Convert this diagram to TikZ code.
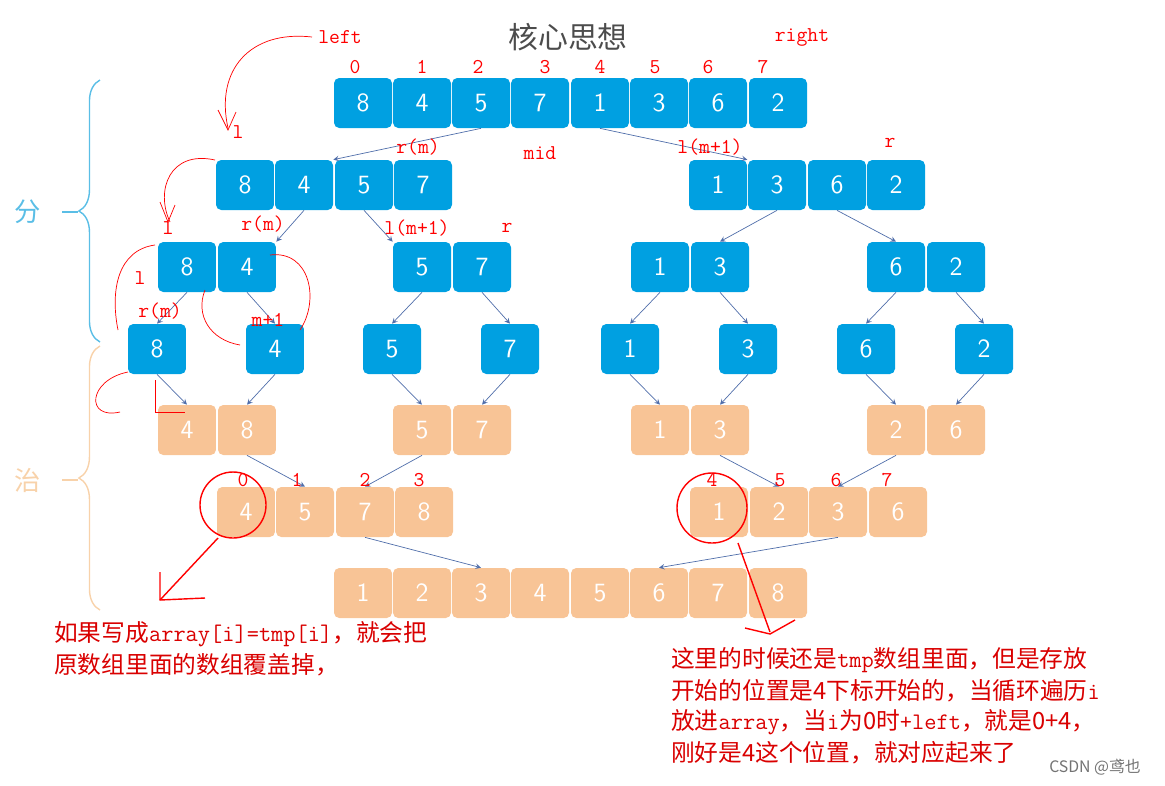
\documentclass[tikz,border=0pt]{standalone}
\usepackage{fontspec}
\newfontfamily\cjk{Noto Sans CJK SC}
\usetikzlibrary{arrows, positioning, decorations.pathreplacing, calc}
\definecolor{cellblue}{RGB}{0,160,225}
\definecolor{cellorange}{RGB}{248,196,150}
\definecolor{edgegray}{RGB}{80,110,170}
\definecolor{braceblue}{RGB}{90,190,230}
\definecolor{braceorange}{RGB}{248,210,170}
\newcommand{\asc}[1]{{\ttfamily #1}}
\tikzset{
  bcell/.style={fill=cellblue, rounded corners=3pt, minimum width=1.16cm, minimum height=1cm, inner sep=0pt, text=white, font=\fontsize{15}{17}\sffamily},
  ocell/.style={bcell, fill=cellorange},
  edge/.style={draw=edgegray, thin, -stealth},
  note/.style={text=red, font=\fontsize{12}{14}\ttfamily},
  cnote/.style={text=red!85!black, font=\cjk\fontsize{13.5}{15}\selectfont, anchor=west},
  hand/.style={red, thin}
}
\begin{document}
\begin{tikzpicture}[x=0.02cm, y=-0.02cm]
\useasboundingbox (0,0) rectangle (1165,785);

% cells
\foreach \x/\t [count=\i] in {363/8,422/4,481/5,540/7,600/1,659/3,718/6,778/2}
  \node[bcell] (a\i) at (\x,103) {\t};
\foreach \x/\t [count=\i] in {245/8,304/4,364/5,423/7,718/1,777/3,837/6,896/2}
  \node[bcell] (b\i) at (\x,185) {\t};
\foreach \x/\t [count=\i] in {187/8,247/4,422/5,482/7,660/1,720/3,896/6,956/2}
  \node[bcell] (c\i) at (\x,267) {\t};
\foreach \x/\t [count=\i] in {157/8,275/4,392/5,510/7,630/1,748/3,866/6,984/2}
  \node[bcell] (d\i) at (\x,349) {\t};
\foreach \x/\t [count=\i] in {187/4,247/8,422/5,482/7,660/1,720/3,896/2,956/6}
  \node[ocell] (e\i) at (\x,430) {\t};
\foreach \x/\t [count=\i] in {246/4,305/5,365/7,424/8,719/1,779/2,838/3,898/6}
  \node[ocell] (f\i) at (\x,512) {\t};
\foreach \x/\t [count=\i] in {363/1,422/2,481/3,540/4,600/5,659/6,718/7,778/8}
  \node[ocell] (g\i) at (\x,593) {\t};

% connectors
\draw[edge] (a3.south) -- (b2.north east);
\draw[edge] (a5.south) -- (b5.north east);
\draw[edge] (b2.south) -- (c2.north east);
\draw[edge] (b3.south) -- (c3.north west);
\draw[edge] (b6.south) -- (c6.north);
\draw[edge] (b7.south) -- (c7.north);
\foreach \i in {1,3,5,7} \draw[edge] (c\i.south) -- (d\i.north);
\foreach \i in {2,4,6,8} \draw[edge] (c\i.south) -- (d\i.north);
\foreach \i in {1,3,5,7} \draw[edge] (d\i.south) -- (e\i.north);
\foreach \i in {2,4,6,8} \draw[edge] (d\i.south) -- (e\i.north);
\draw[edge] (e2.south) -- (f2.north);
\draw[edge] (e3.south) -- (f3.north);
\draw[edge] (e6.south) -- (f6.north);
\draw[edge] (e7.south) -- (f7.north);
\draw[edge] (f3.south) -- (g3.north);
\draw[edge] (f7.south) -- (g6.north);

% braces
\draw[braceblue, thick, decorate, decoration={brace, amplitude=12pt}] (100,342) -- (100,80);
\draw[braceblue, thick] (62,212) -- (78,212);
\node[text=braceblue, font=\cjk\fontsize{15}{17}\selectfont] (fen) at (28,212) {分};
\draw[braceorange, thick, decorate, decoration={brace, amplitude=12pt}] (100,610) -- (100,346);
\draw[braceorange, thick] (62,480) -- (78,480);
\node[text=braceorange, font=\cjk\fontsize{15}{17}\selectfont] (zhi) at (28,480) {治};

% title
\node[text=black!70, font=\cjk\fontsize{17}{19}\selectfont] (title) at (568,37) {核心思想};

% red labels
\node[note] (left) at (340,37) {left};
\node[note] (right) at (802,37) {right};
\foreach \x/\t in {355/0,422/1,478/2,545/3,600/4,655/5,708/6,763/7}
  \node[note] at (\x,67) {\t};
\node[note] at (238,132) {l};
\node[note] at (418,147) {r(m)};
\node[note] at (540,153) {mid};
\node[note] at (710,147) {l(m+1)};
\node[note] at (890,143) {r};
\node[note] at (168,228) {l};
\node[note] at (263,224) {r(m)};
\node[note] at (417,228) {l(m+1)};
\node[note] at (507,228) {r};
\node[note] at (140,278) {l};
\node[note] at (160,311) {r(m)};
\node[note] at (268,320) {m+1};
\foreach \x/\t in {243/0,297/1,365/2,419/3,712/4,780/5,836/6,887/7}
  \node[note] at (\x,480) {\t};

% circles and pointers
\draw[red, thick] (233,505) circle (33);
\draw[red, thick] (712,508) circle (35);
\draw[red, thick] (218,538) -- (160,600);
\draw[red, thick] (160,572) -- (160,600) -- (205,598);
\draw[red, thick] (738,543) -- (770,632);
\draw[red, thick] (745,628) -- (770,634) -- (795,620);

% hand strokes
\draw[hand] (312,37) .. controls (250,30) and (215,70) .. (228,128);
\draw[hand] (218,110) -- (228,130) -- (236,112);
\draw[hand] (215,160) .. controls (170,150) and (155,190) .. (170,222);
\draw[hand] (160,202) -- (168,222) -- (175,205);
\draw[hand] (155,245) .. controls (118,250) and (110,290) .. (118,330);
\draw[hand] (270,255) .. controls (310,250) and (320,300) .. (300,330);
\draw[hand] (205,290) .. controls (195,315) and (210,340) .. (240,345);
\draw[hand] (128,372) .. controls (88,380) and (85,420) .. (120,412);
\draw[hand] (155,380) -- (155,412) -- (185,412);

% notes
\node[cnote] (n1) at (48,634) {如果写成\asc{array[i]=tmp[i]}，就会把};
\node[cnote] (n2) at (48,665) {原数组里面的数组覆盖掉，};
\node[cnote] (m1) at (665,660) {这里的时候还是\asc{tmp}数组里面，但是存放};
\node[cnote] (m2) at (665,691) {开始的位置是4下标开始的，当循环遍历\asc{i}};
\node[cnote] (m3) at (665,722) {放进\asc{array}，当\asc{i}为0时\asc{+left}，就是0+4，};
\node[cnote] (m4) at (665,753) {刚好是4这个位置，就对应起来了};
\node[text=black!55, font=\cjk\fontsize{9}{11}\selectfont] (mark) at (1095,767) {CSDN @鸢也};
\end{tikzpicture}
\end{document}
